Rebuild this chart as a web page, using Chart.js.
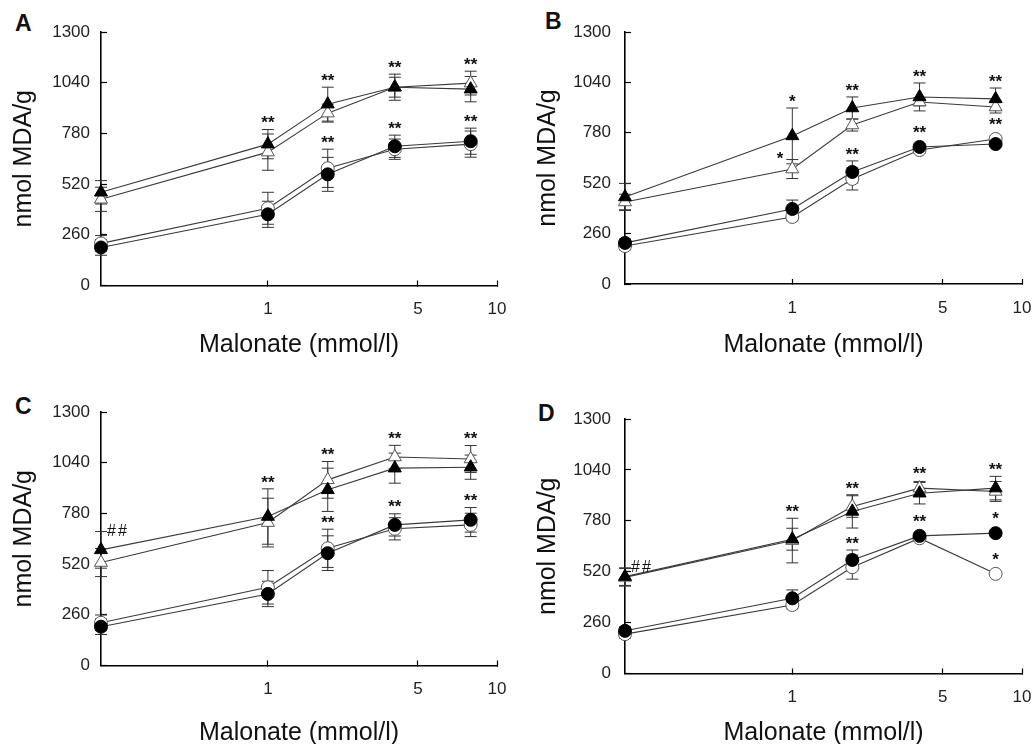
<!DOCTYPE html>
<html>
<head>
<meta charset="utf-8">
<script src="https://cdn.jsdelivr.net/npm/chart.js@4.4.1/dist/chart.umd.min.js"></script>
<style>
  html, body { margin: 0; padding: 0; background: #fff; overflow: hidden; }
  body { width: 1033px; height: 744px; position: relative; }
  .panel { position: absolute; }
  .letter { position: absolute; font: bold 23px "Liberation Sans", Arial, sans-serif; color: #111; line-height: 1; }
</style>
</head>
<body>
<div class="letter" style="left:15px;top:12px">A</div>
<div class="letter" style="left:545px;top:10px">B</div>
<div class="letter" style="left:15px;top:395px">C</div>
<div class="letter" style="left:538px;top:402px">D</div>

<div class="panel" style="left:0;top:0"><canvas id="chartA" width="516" height="372"></canvas></div>
<div class="panel" style="left:516px;top:0"><canvas id="chartB" width="517" height="372"></canvas></div>
<div class="panel" style="left:0;top:372px"><canvas id="chartC" width="516" height="380"></canvas></div>
<div class="panel" style="left:516px;top:372px"><canvas id="chartD" width="517" height="380"></canvas></div>

<script>
// malonate doses (control sits on the left edge of the axis)
const doses = [0.167, 1, 1.9, 3.9, 8.8];
const xMin = 0.167, xMax = 11.67;
const xTickValues = [1, 5, 11.67];
const xTickLabels = ['1', '5', '10'];
const yTickValues = [0, 260, 520, 780, 1040, 1300];

// panel A
const aFilledTri = [478, 725, 930, 1017, 1007];
const aFilledTriErr = [60, 75, 87, 67, 65];
const aOpenTri = [442, 684, 884, 1017, 1038];
const aOpenTriErr = [62, 93, 46, 51, 61];
const aFilledCircle = [195, 365, 570, 714, 740];
const aFilledCircleErr = [40, 67, 87, 57, 67];
const aOpenCircle = [216, 396, 601, 699, 725];
const aOpenCircleErr = [40, 82, 98, 52, 67];
const aMarks = [['ft', 1, '**'], ['ft', 2, '**'], ['ft', 3, '**'], ['ot', 4, '**'],
                ['oc', 2, '**'], ['fc', 3, '**'], ['fc', 4, '**']];

// panel B
const bFilledTri = [449, 764, 908, 965, 955];
const bFilledTriErr = [70, 144, 57, 72, 56];
const bOpenTri = [423, 593, 820, 939, 913];
const bOpenTriErr = [40, 49, 31, 20, 31];
const bFilledCircle = [212, 387, 578, 707, 722];
const bFilledCircleErr = [20, 46, 57, 15, 15];
const bOpenCircle = [196, 346, 542, 691, 748];
const bOpenCircleErr = [20, 20, 57, 15, 15];
const bMarks = [['ft', 1, '*'], ['ot', 1, '*', 'left'], ['ft', 2, '**'], ['ft', 3, '**'], ['ft', 4, '**'],
                ['fc', 2, '**'], ['fc', 3, '**'], ['oc', 4, '**']];

// panel C
const cFilledTri = [593, 764, 901, 1012, 1017];
const cFilledTriErr = [94, 142, 111, 77, 62];
const cOpenTri = [528, 733, 952, 1069, 1059];
const cOpenTriErr = [72, 125, 94, 60, 69];
const cFilledCircle = [199, 367, 576, 721, 747];
const cFilledCircleErr = [40, 65, 89, 57, 63];
const cOpenCircle = [219, 401, 601, 701, 721];
const cOpenCircleErr = [40, 86, 98, 57, 60];
const cMarks = [['ft', 0, '##', 'right'], ['ft', 1, '**'], ['ot', 2, '**'], ['ot', 3, '**'], ['ot', 4, '**'],
                ['oc', 2, '**'], ['fc', 3, '**'], ['fc', 4, '**']];

// panel D
const dFilledTri = [495, 686, 828, 921, 947];
const dFilledTriErr = [45, 56, 85, 55, 60];
const dOpenTri = [491, 679, 853, 947, 930];
const dOpenTriErr = [45, 114, 55, 34, 51];
const dFilledCircle = [218, 384, 580, 703, 717];
const dFilledCircleErr = [20, 43, 51, 15, 15];
const dOpenCircle = [201, 350, 543, 691, 509];
const dOpenCircleErr = [20, 20, 61, 15, 0];
const dMarks = [['ft', 0, '##', 'right'], ['ot', 1, '**'], ['ot', 2, '**'], ['ot', 3, '**'], ['ft', 4, '**'],
                ['fc', 2, '**'], ['fc', 3, '**'], ['fc', 4, '*'], ['oc', 4, '*']];

const FONT = '"Liberation Sans", Arial, sans-serif';
Chart.defaults.font.family = FONT;
Chart.defaults.font.size = 17;
Chart.defaults.color = '#222';

const markerStyle = {
  ft: { pointStyle: 'triangle', radius: 7.5, fill: '#000', stroke: '#000' },
  fc: { pointStyle: 'circle', radius: 6.5, fill: '#000', stroke: '#000' },
  ot: { pointStyle: 'triangle', radius: 7.5, fill: '#fff', stroke: '#555' },
  oc: { pointStyle: 'circle', radius: 6.5, fill: '#fff', stroke: '#555' }
};

const errorBarPlugin = {
  id: 'errorBars',
  beforeDatasetsDraw(chart) {
    const ctx = chart.ctx, xs = chart.scales.x, ys = chart.scales.y;
    ctx.save();
    ctx.strokeStyle = '#333';
    ctx.lineWidth = 1;
    chart.data.datasets.forEach(ds => {
      ds.data.forEach((p, i) => {
        const e = ds.errors[i];
        if (!e) return;
        const px = xs.getPixelForValue(p.x);
        const y1 = ys.getPixelForValue(p.y + e), y2 = ys.getPixelForValue(p.y - e);
        ctx.beginPath();
        ctx.moveTo(px, y1); ctx.lineTo(px, y2);
        ctx.moveTo(px - 6, y1); ctx.lineTo(px + 6, y1);
        ctx.moveTo(px - 6, y2); ctx.lineTo(px + 6, y2);
        ctx.stroke();
      });
    });
    ctx.restore();
  }
};

function marksPlugin(marks) {
  return {
    id: 'marks',
    afterDatasetsDraw(chart) {
      const ctx = chart.ctx, xs = chart.scales.x, ys = chart.scales.y;
      ctx.save();
      ctx.fillStyle = '#111';
      ctx.textBaseline = 'middle';
      marks.forEach(([key, i, text, side]) => {
        const ds = chart.data.datasets.find(d => d.key === key);
        const p = ds.data[i];
        const px = xs.getPixelForValue(p.x);
        const top = Math.min(ys.getPixelForValue(p.y + ds.errors[i]), ys.getPixelForValue(p.y) - 8);
        if (text === '##') {
          ctx.font = '16px ' + FONT;
          ctx.letterSpacing = '2px';
        } else {
          ctx.font = 'bold 17px ' + FONT;
          ctx.letterSpacing = '0px';
        }
        if (side === 'left') {
          ctx.textAlign = 'right';
          ctx.fillText(text, px - 9, top);
        } else if (side === 'right') {
          ctx.textAlign = 'left';
          ctx.fillText(text, px + 6, top);
        } else {
          ctx.textAlign = 'center';
          ctx.fillText(text, px, top - 6);
        }
      });
      ctx.restore();
    }
  };
}

function buildDataset(key, values, errors) {
  const st = markerStyle[key];
  return {
    key: key,
    data: doses.map((d, i) => ({ x: d, y: values[i] })),
    errors: errors,
    borderColor: '#3a3a3a',
    borderWidth: 1.1,
    tension: 0,
    clip: false,
    pointStyle: st.pointStyle,
    pointRadius: st.radius,
    pointHoverRadius: st.radius,
    pointBackgroundColor: st.fill,
    pointBorderColor: st.stroke,
    pointBorderWidth: 1
  };
}

function drawPanel(id, series, marks, box) {
  const datasets = [
    buildDataset('ft', series[0], series[1]),
    buildDataset('fc', series[4], series[5]),
    buildDataset('ot', series[2], series[3]),
    buildDataset('oc', series[6], series[7])
  ];
  new Chart(document.getElementById(id), {
    type: 'line',
    data: { datasets: datasets },
    plugins: [errorBarPlugin, marksPlugin(marks)],
    options: {
      responsive: false,
      animation: false,
      devicePixelRatio: 1,
      layout: { padding: { left: 0, top: box.top, right: box.w - box.right, bottom: 0 } },
      plugins: { legend: { display: false }, tooltip: { enabled: false } },
      scales: {
        x: {
          type: 'logarithmic',
          min: xMin,
          max: xMax,
          afterBuildTicks: s => { s.ticks = xTickValues.map(v => ({ value: v })); },
          afterFit: s => { s.height = box.h - box.bottom; s.paddingLeft = 0; s.paddingRight = 0; },
          ticks: {
            autoSkip: false, maxRotation: 0, padding: 19, color: '#222',
            font: { family: FONT, size: 17 },
            callback: (v, i) => xTickLabels[i]
          },
          grid: { drawOnChartArea: false, tickLength: -5, tickColor: '#000', tickWidth: 1.2 },
          border: { color: '#000', width: 1.6 },
          title: {
            display: true, text: 'Malonate (mmol/l)', color: '#111',
            font: { family: FONT, size: 25, lineHeight: 1 },
            padding: { top: 0, bottom: box.xTitlePad }
          }
        },
        y: {
          type: 'linear',
          min: 0,
          max: 1300,
          afterBuildTicks: s => { s.ticks = yTickValues.map(v => ({ value: v })); },
          afterFit: s => { s.width = box.left; s.paddingTop = 0; s.paddingBottom = 0; },
          ticks: {
            padding: box.yTickPad, color: '#222',
            font: { family: FONT, size: 17 },
            callback: v => String(v)
          },
          grid: { drawOnChartArea: false, tickLength: -6, tickColor: '#000', tickWidth: 1.2 },
          border: { color: '#000', width: 1.6 },
          title: {
            display: true, text: 'nmol MDA/g', color: '#111',
            font: { family: FONT, size: 25, lineHeight: 1 },
            padding: { top: box.yTitlePad, bottom: 0 }
          }
        }
      }
    }
  });
}

drawPanel('chartA',
  [aFilledTri, aFilledTriErr, aOpenTri, aOpenTriErr, aFilledCircle, aFilledCircleErr, aOpenCircle, aOpenCircleErr],
  aMarks, { w: 516, h: 372, left: 101, top: 32, right: 497, bottom: 285.5, xTitlePad: 14.5, yTitlePad: 12, yTickPad: 17 });
drawPanel('chartB',
  [bFilledTri, bFilledTriErr, bOpenTri, bOpenTriErr, bFilledCircle, bFilledCircleErr, bOpenCircle, bOpenCircleErr],
  bMarks, { w: 517, h: 372, left: 109, top: 32, right: 506, bottom: 284, xTitlePad: 14.5, yTitlePad: 20, yTickPad: 20 });
drawPanel('chartC',
  [cFilledTri, cFilledTriErr, cOpenTri, cOpenTriErr, cFilledCircle, cFilledCircleErr, cOpenCircle, cOpenCircleErr],
  cMarks, { w: 516, h: 380, left: 101, top: 40, right: 497, bottom: 293.5, xTitlePad: 6, yTitlePad: 12, yTickPad: 17 });
drawPanel('chartD',
  [dFilledTri, dFilledTriErr, dOpenTri, dOpenTriErr, dFilledCircle, dFilledCircleErr, dOpenCircle, dOpenCircleErr],
  dMarks, { w: 517, h: 380, left: 109, top: 47, right: 506, bottom: 301.5, xTitlePad: 6, yTitlePad: 20, yTickPad: 20 });
</script>
</body>
</html>
